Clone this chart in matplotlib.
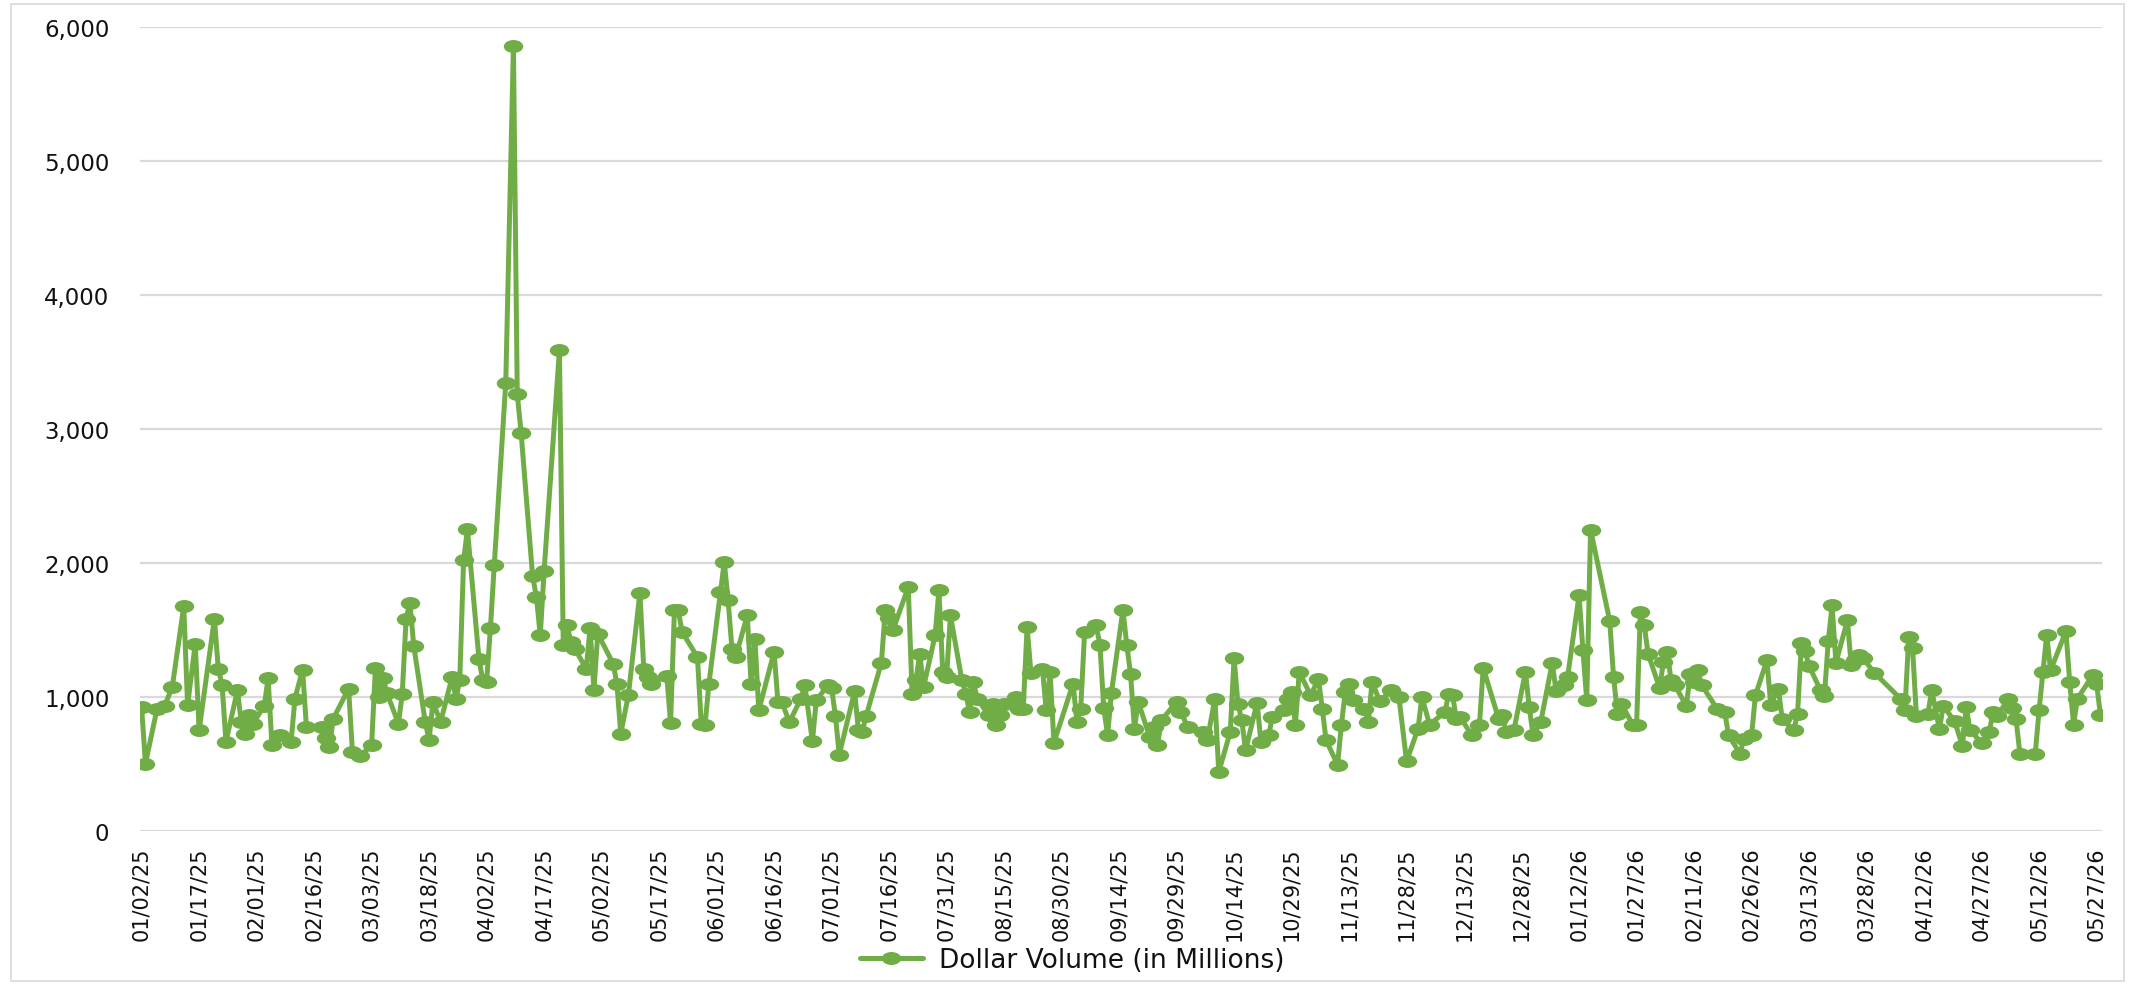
import numpy as np
import pandas as pd
import matplotlib
matplotlib.use("Agg")
import matplotlib.pyplot as plt
import matplotlib.dates as mdates
from matplotlib.path import Path
from matplotlib.patches import Rectangle
from matplotlib.ticker import FixedLocator, FuncFormatter

# Trading sessions and dollar volume (in $ millions), one line per month
sessions_2025 = [
    "01/02/25", "01/03/25", "01/06/25", "01/08/25", "01/10/25", "01/13/25", "01/14/25", "01/16/25", "01/17/25", "01/21/25", "01/22/25", "01/23/25", "01/24/25", "01/27/25", "01/28/25", "01/29/25", "01/30/25", "01/31/25",
    "02/03/25", "02/04/25", "02/05/25", "02/07/25", "02/10/25", "02/11/25", "02/13/25", "02/14/25", "02/18/25", "02/19/25", "02/20/25", "02/21/25", "02/25/25", "02/26/25", "02/28/25",
    "03/03/25", "03/04/25", "03/05/25", "03/06/25", "03/07/25", "03/10/25", "03/11/25", "03/12/25", "03/13/25", "03/14/25", "03/17/25", "03/18/25", "03/19/25", "03/21/25", "03/24/25", "03/25/25", "03/26/25", "03/27/25", "03/28/25", "03/31/25",
    "04/01/25", "04/02/25", "04/03/25", "04/04/25", "04/07/25", "04/09/25", "04/10/25", "04/11/25", "04/14/25", "04/15/25", "04/16/25", "04/17/25", "04/21/25", "04/22/25", "04/23/25", "04/24/25", "04/25/25", "04/28/25", "04/29/25", "04/30/25",
    "05/01/25", "05/05/25", "05/06/25", "05/07/25", "05/09/25", "05/12/25", "05/13/25", "05/14/25", "05/15/25", "05/19/25", "05/20/25", "05/21/25", "05/22/25", "05/23/25", "05/27/25", "05/28/25", "05/29/25", "05/30/25",
    "06/02/25", "06/03/25", "06/04/25", "06/05/25", "06/06/25", "06/09/25", "06/10/25", "06/11/25", "06/12/25", "06/16/25", "06/17/25", "06/18/25", "06/20/25", "06/23/25", "06/24/25", "06/26/25", "06/27/25", "06/30/25",
    "07/01/25", "07/02/25", "07/03/25", "07/07/25", "07/08/25", "07/09/25", "07/10/25", "07/14/25", "07/15/25", "07/16/25", "07/17/25", "07/21/25", "07/22/25", "07/23/25", "07/24/25", "07/25/25", "07/28/25", "07/29/25", "07/30/25", "07/31/25",
    "08/01/25", "08/04/25", "08/05/25", "08/06/25", "08/07/25", "08/08/25", "08/11/25", "08/12/25", "08/13/25", "08/14/25", "08/15/25", "08/18/25", "08/19/25", "08/20/25", "08/21/25", "08/22/25", "08/25/25", "08/26/25", "08/27/25", "08/28/25",
    "09/02/25", "09/03/25", "09/04/25", "09/05/25", "09/08/25", "09/09/25", "09/10/25", "09/11/25", "09/12/25", "09/15/25", "09/16/25", "09/17/25", "09/18/25", "09/19/25", "09/22/25", "09/23/25", "09/24/25", "09/25/25", "09/29/25", "09/30/25",
    "10/02/25", "10/06/25", "10/07/25", "10/09/25", "10/10/25", "10/13/25", "10/14/25", "10/15/25", "10/16/25", "10/17/25", "10/20/25", "10/21/25", "10/23/25", "10/24/25", "10/27/25", "10/28/25", "10/29/25", "10/30/25", "10/31/25",
    "11/03/25", "11/05/25", "11/06/25", "11/07/25", "11/10/25", "11/11/25", "11/12/25", "11/13/25", "11/14/25", "11/17/25", "11/18/25", "11/19/25", "11/21/25", "11/24/25", "11/26/25", "11/28/25",
    "12/01/25", "12/02/25", "12/04/25", "12/08/25", "12/09/25", "12/10/25", "12/11/25", "12/12/25", "12/15/25", "12/17/25", "12/18/25", "12/22/25", "12/23/25", "12/24/25", "12/26/25", "12/29/25", "12/30/25", "12/31/25",
]
volume_2025 = [
    925, 502, 908, 933, 1075, 1677, 938, 1398, 751, 1585, 1211, 1092, 664, 1050, 813, 726, 863, 801,
    933, 1142, 639, 714, 664, 988, 1204, 776, 776, 694, 627, 838, 1062, 590, 560,
    639, 1219, 1000, 1142, 1030, 801, 1025, 1585, 1701, 1381, 813, 677, 963, 813, 1149, 988, 1124, 2020, 2251, 1286,
    1124, 1112, 1515, 1983, 3345, 5855, 3258, 2973, 1903, 1746, 1460, 1938, 3590, 1386, 1535, 1410, 1361, 1211, 1515, 1050,
    1473, 1249, 1100, 726, 1017, 1779, 1211, 1149, 1100, 1157, 808, 1647, 1647, 1485, 1299, 801, 794, 1100,
    1784, 2008, 1722, 1361, 1299, 1610, 1100, 1435, 900, 1336, 963, 963, 813, 988, 1087, 669, 975, 1087,
    1067, 858, 570, 1042, 751, 739, 858, 1256, 1647, 1590, 1498, 1821, 1025, 1124, 1323, 1075, 1460, 1796, 1187, 1149,
    1610, 1124, 1025, 888, 1112, 988, 863, 950, 789, 863, 950, 1000, 913, 913, 1522, 1182, 1211, 900, 1187, 659,
    1100, 813, 913, 1485, 1535, 1391, 918, 714, 1032, 1650, 1391, 1169, 764, 963, 701, 776, 639, 826, 963, 888,
    776, 739, 677, 988, 440, 739, 1291, 950, 826, 602, 958, 664, 714, 851, 900, 988, 1037, 794, 1187,
    1012, 1137, 913, 677, 495, 794, 1037, 1100, 975, 913, 813, 1112, 968, 1050, 1000, 520,
    764, 1000, 794, 888, 1025, 1012, 833, 851, 714, 789, 1216, 838, 863, 739, 751, 1187, 925, 714,
]

sessions_2026 = [
    "01/02/26", "01/05/26", "01/06/26", "01/08/26", "01/09/26", "01/12/26", "01/13/26", "01/14/26", "01/15/26", "01/20/26", "01/21/26", "01/22/26", "01/23/26", "01/26/26", "01/27/26", "01/28/26", "01/29/26", "01/30/26",
    "02/02/26", "02/03/26", "02/04/26", "02/05/26", "02/06/26", "02/09/26", "02/10/26", "02/11/26", "02/12/26", "02/13/26", "02/17/26", "02/19/26", "02/20/26", "02/23/26", "02/24/26", "02/26/26", "02/27/26",
    "03/02/26", "03/03/26", "03/05/26", "03/06/26", "03/09/26", "03/10/26", "03/11/26", "03/12/26", "03/13/26", "03/16/26", "03/17/26", "03/18/26", "03/19/26", "03/20/26", "03/23/26", "03/24/26", "03/25/26", "03/26/26", "03/27/26", "03/30/26",
    "04/06/26", "04/07/26", "04/08/26", "04/09/26", "04/10/26", "04/13/26", "04/14/26", "04/16/26", "04/17/26", "04/20/26", "04/22/26", "04/23/26", "04/24/26", "04/27/26", "04/29/26", "04/30/26",
    "05/01/26", "05/04/26", "05/05/26", "05/06/26", "05/07/26", "05/11/26", "05/12/26", "05/13/26", "05/14/26", "05/15/26", "05/19/26", "05/20/26", "05/21/26", "05/22/26", "05/26/26", "05/27/26", "05/28/26",
]
volume_2026 = [
    813, 1256, 1042, 1092, 1149, 1759, 1348, 975, 2249, 1565, 1149, 876, 950, 794, 794, 1634, 1535, 1323,
    1067, 1261, 1336, 1124, 1087, 933, 1174, 1112, 1199, 1087, 913, 888, 714, 577, 689, 714, 1012,
    1274, 943, 1062, 833, 751, 876, 1405, 1341, 1231, 1050, 1007, 1415, 1684, 1256, 1572, 1236, 1274, 1316, 1291, 1182,
    983, 900, 1448, 1366, 858, 876, 1050, 759, 933, 818, 634, 925, 751, 659, 739, 888,
    858, 983, 918, 833, 577, 577, 900, 1187, 1465, 1199, 1490, 1112, 794, 988, 1162, 1100, 868,
]

series_label = "Dollar Volume (in Millions)"
y_ticks = [0, 1000, 2000, 3000, 4000, 5000, 6000]
tick_start, tick_end, tick_step = "01/02/25", "05/27/26", "15D"

assert len(sessions_2025) == len(volume_2025)
assert len(sessions_2026) == len(volume_2026)

dates = pd.to_datetime(sessions_2025 + sessions_2026, format="%m/%d/%y")
volume = np.array(volume_2025 + volume_2026, dtype=float)

GREEN = "#70AD47"
GRID = "#D9D9D9"
TEXT = "#111111"

W, H = 2134, 987
fig = plt.figure(figsize=(W / 100, H / 100), dpi=100)
fig.patch.set_facecolor("white")

# plot area in pixel terms
left, right, top, bottom = 140, 2102, 28, 832
ax = fig.add_axes([left / W, (H - bottom) / H, (right - left) / W, (bottom - top) / H])

# slightly wide elliptical marker
circ = Path.unit_circle()
ellipse = Path(circ.vertices * np.array([1.5, 1.0]), circ.codes)

ax.plot(dates, volume, color=GREEN, lw=3.6, marker=ellipse, ms=14,
        markerfacecolor=GREEN, markeredgecolor=GREEN, markeredgewidth=0,
        solid_joinstyle="round", solid_capstyle="round", label=series_label, zorder=3)

ax.set_ylim(0, 6000)
ax.yaxis.set_major_locator(FixedLocator(y_ticks))
ax.yaxis.set_major_formatter(FuncFormatter(lambda v, p: f"{v:,.0f}"))
ax.grid(axis="y", color=GRID, lw=1.6)
ax.set_axisbelow(True)

xt = pd.date_range(pd.to_datetime(tick_start, format="%m/%d/%y"),
                   pd.to_datetime(tick_end, format="%m/%d/%y"), freq=tick_step)
ax.xaxis.set_major_locator(FixedLocator(mdates.date2num(xt)))
ax.xaxis.set_major_formatter(mdates.DateFormatter("%m/%d/%y"))
pad = pd.Timedelta(hours=10)
ax.set_xlim(dates[0] - pad, dates[-1] + pad)

for s in ax.spines.values():
    s.set_visible(False)
ax.tick_params(axis="both", length=0, colors=TEXT)
ax.tick_params(axis="y", labelsize=16.5, pad=22)
ax.tick_params(axis="x", labelsize=15, pad=11, labelrotation=90)

leg = fig.legend(loc="center", bbox_to_anchor=(1072 / W, 1 - 961 / H), frameon=False,
                 fontsize=19, handlelength=2.4, handletextpad=0.6, numpoints=1)
for t in leg.get_texts():
    t.set_color(TEXT)

# light outer chart frame
fig.patches.append(Rectangle((11 / W, 5 / H), (2124 - 11) / W, (982 - 5) / H,
                             transform=fig.transFigure, fill=False, ec=GRID, lw=1.2))

fig.savefig("out.png", dpi=100, facecolor="white")
